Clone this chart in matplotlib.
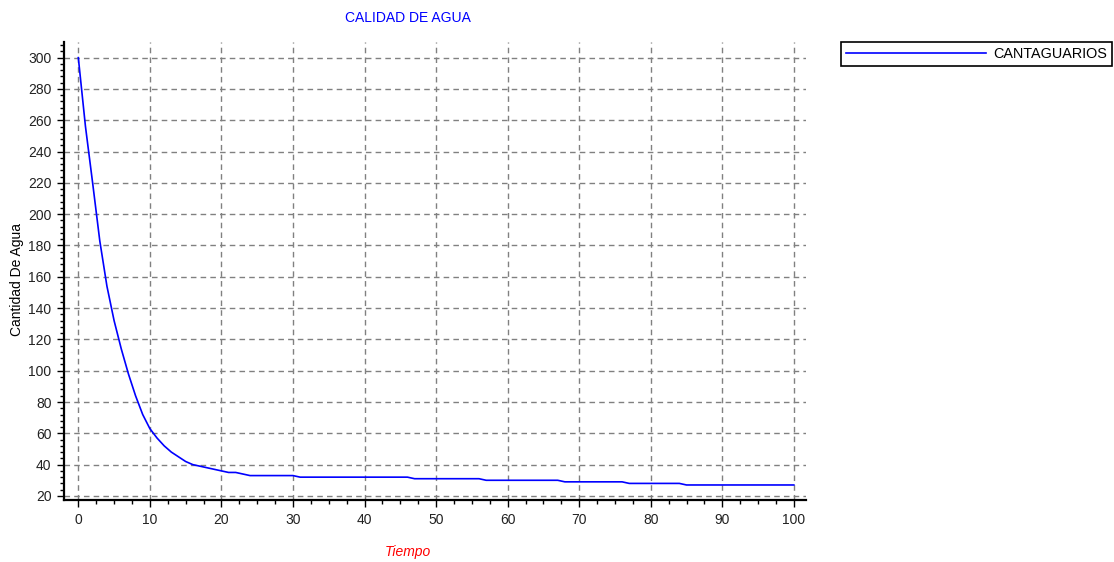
import matplotlib.pyplot as plt
from matplotlib.ticker import MultipleLocator

plt.rcParams['font.family'] = ['Liberation Sans', 'DejaVu Sans']

# datos
tiempo = list(range(0, 101))
cantaguarios = (
    [300, 256, 220, 183, 154, 132, 114, 98, 84, 72,
     63, 57, 52, 48, 45, 42, 40, 39, 38, 37,
     36, 35, 35, 34]
    + [33] * 7      # 24 - 30
    + [32] * 16     # 31 - 46
    + [31] * 10     # 47 - 56
    + [30] * 11     # 57 - 67
    + [29] * 9      # 68 - 76
    + [28] * 8      # 77 - 84
    + [27] * 16     # 85 - 100
)
serie = 'CANTAGUARIOS'
titulo = 'CALIDAD DE AGUA'
etiqueta_x = 'Tiempo'
etiqueta_y = 'Cantidad De Agua'

fig = plt.figure(figsize=(11.14, 5.62), dpi=100)
ax = fig.add_axes([64 / 1114, 62 / 562, (806 - 64) / 1114, (500 - 42) / 562])

linea, = ax.plot(tiempo, cantaguarios, color='#0000ff', linewidth=1.2, label=serie)

ax.set_xlim(-2, 101.7)
ax.set_ylim(17.4, 310)
ax.xaxis.set_major_locator(MultipleLocator(10))
ax.xaxis.set_minor_locator(MultipleLocator(2.5))
ax.yaxis.set_major_locator(MultipleLocator(20))
ax.yaxis.set_minor_locator(MultipleLocator(4))

ax.grid(True, which='major', color='#808080', linestyle=(0, (4, 3)), linewidth=1)
ax.set_axisbelow(True)

for lado in ['top', 'right']:
    ax.spines[lado].set_visible(False)
for lado in ['left', 'bottom']:
    ax.spines[lado].set_linewidth(1.6)
    ax.spines[lado].set_color('black')

ax.tick_params(which='major', length=5, width=1, labelsize=10, labelcolor='#222222', pad=4)
ax.tick_params(which='minor', length=3, width=1)

fig.text(408 / 1114, 1 - 18 / 562, titulo, color='#0000ff', fontsize=10,
         ha='center', va='center')
fig.text(408 / 1114, 1 - 552 / 562, etiqueta_x, color='#ff0000', fontsize=10,
         style='italic', ha='center', va='center')
fig.text(17 / 1114, 1 - 280 / 562, etiqueta_y, color='black', fontsize=10,
         rotation=90, ha='center', va='center')

leg = fig.legend(handles=[linea], loc='upper left',
                 bbox_to_anchor=(841 / 1114, 1 - 42 / 562),
                 borderaxespad=0, fancybox=False, edgecolor='black',
                 handlelength=9.7, handletextpad=0.5, borderpad=0.35,
                 fontsize=10.4, framealpha=1)
leg.get_frame().set_linewidth(1.2)

fig.savefig('out.png', dpi=100)
